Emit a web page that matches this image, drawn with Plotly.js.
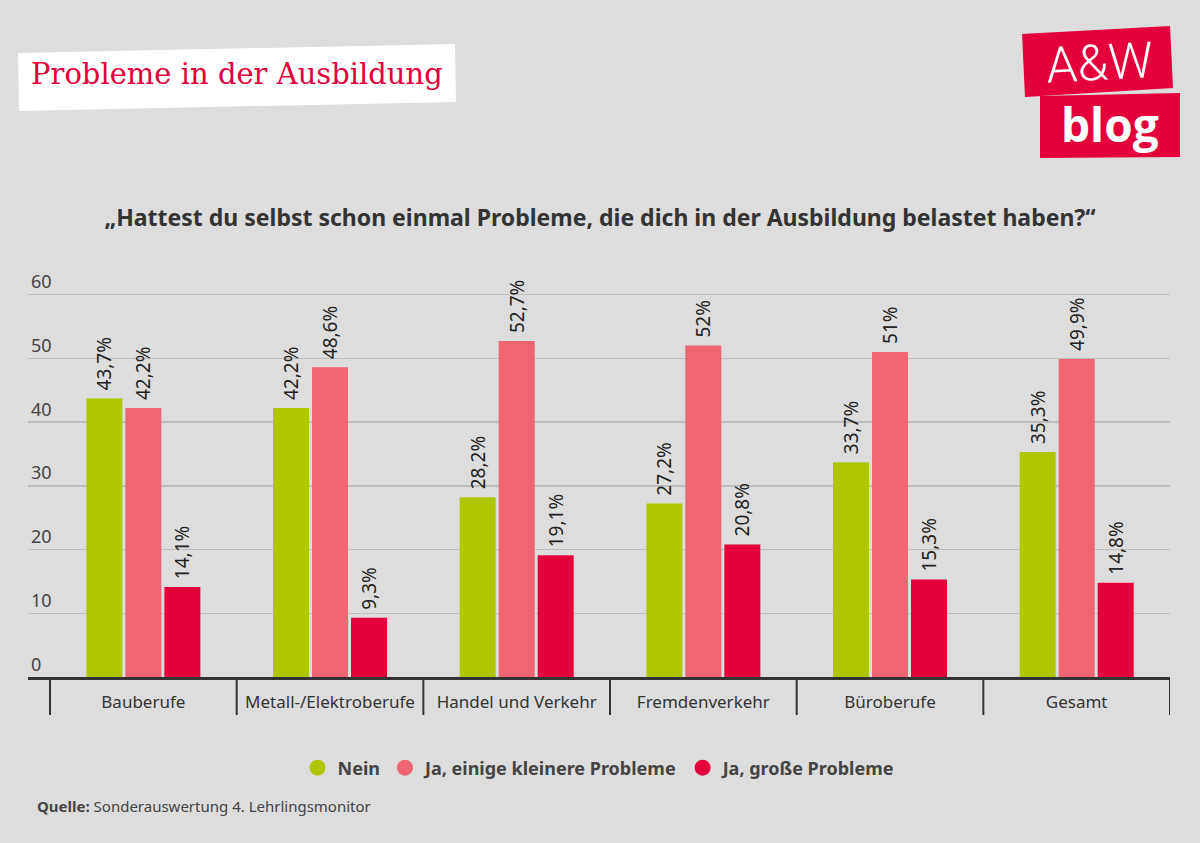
<!DOCTYPE html>
<html>
<head>
<meta charset="utf-8">
<script src="https://cdn.plot.ly/plotly-3.0.1.min.js"></script>
<style>
  html, body { margin: 0; padding: 0; background: #dddddd; }
  #chart { width: 1200px; height: 843px; }
</style>
</head>
<body>
<div id="chart"></div>
<script>
// ---- Data ----
const categories = ["Bauberufe", "Metall-/Elektroberufe", "Handel und Verkehr", "Fremdenverkehr", "Büroberufe", "Gesamt"];
const seriesNames = ["Nein", "Ja, einige kleinere Probleme", "Ja, große Probleme"];
const nein = [43.7, 42.2, 28.2, 27.2, 33.7, 35.3];
const kleinere = [42.2, 48.6, 52.7, 52, 51, 49.9];
const grosse = [14.1, 9.3, 19.1, 20.8, 15.3, 14.8];
const yTicks = [0, 10, 20, 30, 40, 50, 60];

// ---- Styling ----
const colors = ["#afc700", "#ee6574", "#e4003a"];
const FONT = "Noto Sans, Open Sans, sans-serif";
const W = 1200, H = 843;
const M = {l: 28, r: 30, t: 269, b: 166};
const plotW = W - M.l - M.r, plotH = H - M.t - M.b;
const px = x => (x - M.l) / plotW;
const py = y => (H - M.b - y) / plotH;
const poly = pts => 'M ' + pts.map(p => px(p[0]) + ' ' + py(p[1])).join(' L ') + ' Z';

const fmt = v => '\u00a0' + String(v).replace('.', ',') + '%';

const seriesValues = [nein, kleinere, grosse];
const traces = seriesValues.map((vals, i) => ({
  type: 'bar',
  x: categories,
  y: vals,
  name: seriesNames[i],
  showlegend: false,
  marker: {color: colors[i], line: {width: 0}},
  text: vals.map(fmt),
  textposition: 'outside',
  textangle: -90,
  constraintext: 'none',
  cliponaxis: false,
  textfont: {family: FONT, size: 19, color: '#222222'},
  hoverinfo: 'x+y'
}));

// legend-only traces with round markers
seriesNames.forEach((n, i) => {
  traces.push({
    type: 'scatter', mode: 'markers', x: [null], y: [null],
    name: n, showlegend: true,
    marker: {color: colors[i], size: 16, symbol: 'circle'}
  });
});

const shapes = [];
// header white tilted box
shapes.push({type: 'path', xref: 'paper', yref: 'paper', layer: 'below',
  path: poly([[18, 53], [455, 44], [456, 102], [19, 111]]),
  fillcolor: '#ffffff', line: {width: 0}});
// logo boxes
shapes.push({type: 'path', xref: 'paper', yref: 'paper', layer: 'below',
  path: poly([[1022, 34], [1170, 26], [1173, 88], [1025, 97]]),
  fillcolor: '#e4003a', line: {width: 0}});
shapes.push({type: 'path', xref: 'paper', yref: 'paper', layer: 'below',
  path: poly([[1040, 96], [1180, 93], [1180, 157], [1040, 158]]),
  fillcolor: '#e4003a', line: {width: 0}});
// category separators below axis
for (let i = 0; i <= categories.length; i++) {
  shapes.push({type: 'line', xref: 'x', yref: 'paper',
    x0: i - 0.5, x1: i - 0.5, y0: 0, y1: py(715),
    line: {color: '#333333', width: 2}});
}

const annotations = [
  {text: 'Probleme in der Ausbildung', xref: 'paper', yref: 'paper',
   x: px(29), y: py(74), xanchor: 'left', yanchor: 'middle', showarrow: false,
   font: {family: 'DejaVu Serif, Liberation Serif, serif', size: 29, color: '#e2003b'}},
  {text: 'A&amp;W', xref: 'paper', yref: 'paper',
   x: px(1099), y: py(63), xanchor: 'center', yanchor: 'middle', showarrow: false,
   textangle: -3,
   font: {family: 'Roboto, Open Sans, sans-serif', size: 50, color: '#ffffff', weight: 300}},
  {text: 'blog', xref: 'paper', yref: 'paper',
   x: px(1110), y: py(124), xanchor: 'center', yanchor: 'middle', showarrow: false,
   font: {family: 'Open Sans, Noto Sans, sans-serif', size: 46, color: '#ffffff', weight: 700}},
  {text: '<b>Quelle:</b> Sonderauswertung 4. Lehrlingsmonitor', xref: 'paper', yref: 'paper',
   x: px(35), y: py(806), xanchor: 'left', yanchor: 'middle', showarrow: false,
   font: {family: FONT, size: 15, color: '#444444'}}
];

const layout = {
  width: W, height: H,
  margin: M,
  paper_bgcolor: '#dddddd',
  plot_bgcolor: '#dddddd',
  font: {family: FONT, color: '#333333'},
  title: {
    text: '„Hattest du selbst schon einmal Probleme, die dich in der Ausbildung belastet haben?“',
    x: 0.5, xref: 'container', xanchor: 'center',
    y: 1 - 218 / H, yref: 'container', yanchor: 'middle',
    font: {family: FONT, size: 23, color: '#333333', weight: 700}
  },
  barmode: 'group',
  bargap: 0.373,
  bargroupgap: 0.077,
  xaxis: {
    type: 'category',
    range: [-0.618, categories.length - 0.5],
    showline: true, linecolor: '#333333', linewidth: 3,
    ticks: '', showgrid: false, zeroline: false,
    ticklabelstandoff: 8,
    tickfont: {family: FONT, size: 17, color: '#333333'},
    fixedrange: true
  },
  yaxis: {
    range: [0, 64],
    tickvals: yTicks,
    ticktext: yTicks.map(String),
    ticklabelposition: 'inside top',
    ticks: '',
    showgrid: true, gridcolor: '#bdbdbd', gridwidth: 1.5,
    zeroline: false, showline: false,
    tickfont: {family: FONT, size: 18, color: '#444444'},
    fixedrange: true
  },
  legend: {
    orientation: 'h',
    x: 0.5, xanchor: 'center',
    y: py(768), yanchor: 'middle',
    bgcolor: 'rgba(0,0,0,0)',
    font: {family: FONT, size: 18, color: '#444444', weight: 700},
    itemclick: false, itemdoubleclick: false
  },
  shapes: shapes,
  annotations: annotations,
  showlegend: true
};

Plotly.newPlot('chart', traces, layout, {displayModeBar: false, staticPlot: true});
</script>
</body>
</html>
